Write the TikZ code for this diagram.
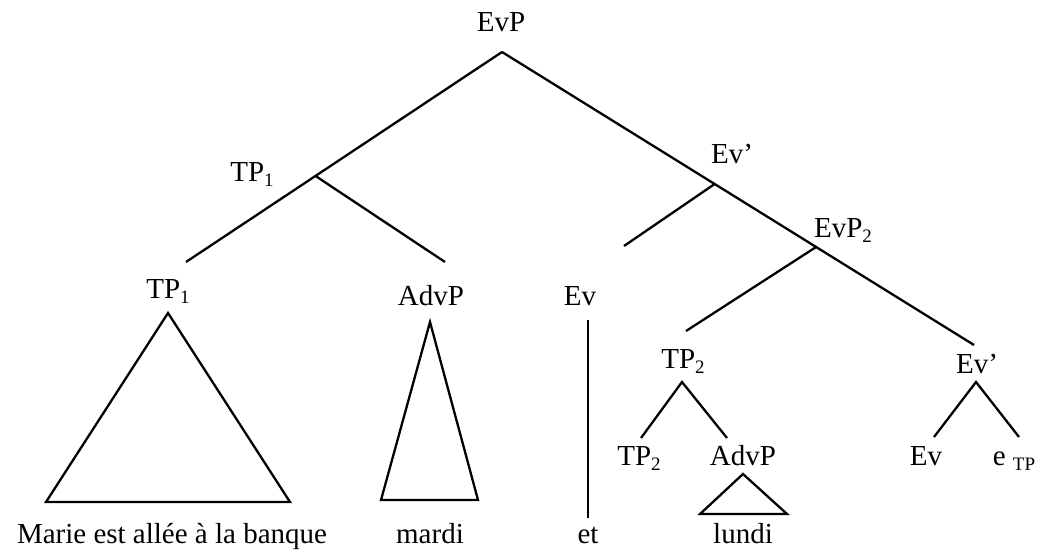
\documentclass[tikz,border=0pt]{standalone}
\usepackage{fontspec}
\setmainfont{Liberation Serif}
\usetikzlibrary{calc}
\newcommand{\subsc}[1]{\raisebox{-0.2em}{\fontsize{19}{19}\selectfont #1}}
\begin{document}
\begin{tikzpicture}[x=1pt,y=-1pt,
  lbl/.style={anchor=base,inner sep=0pt,font=\fontsize{29}{29}\selectfont},
  br/.style={line width=2.3pt,line join=miter}]
\useasboundingbox (0,0) rectangle (1040,551);
% labels
\node[lbl] (evp) at (501,32) {EvP};
\node[lbl] (tp1a) at (252,181) {TP\subsc{1}};
\node[lbl] (evb1) at (732,163) {Ev’};
\node[lbl] (evp2) at (843,237) {EvP\subsc{2}};
\node[lbl] (tp1b) at (168,298) {TP\subsc{1}};
\node[lbl] (advp1) at (431,305) {AdvP};
\node[lbl] (ev1) at (580,305) {Ev};
\node[lbl] (tp2a) at (683,368) {TP\subsc{2}};
\node[lbl] (evb2) at (977,373) {Ev’};
\node[lbl] (tp2b) at (639,465) {TP\subsc{2}};
\node[lbl] (advp2) at (743,465) {AdvP};
\node[lbl] (ev2) at (926,465) {Ev};
\node[lbl] (etp) at (1014,465) {e \subsc{TP}};
\node[lbl] (marie) at (172,543) {Marie est allée à la banque};
\node[lbl] (mardi) at (430,543) {mardi};
\node[lbl] (et) at (588,543) {et};
\node[lbl] (lundi) at (743,543) {lundi};
% junction points
\coordinate (a0) at (502,52);
\coordinate (eR) at (974,345);
\coordinate (t1l) at (186,262);
\coordinate (j1) at ($(a0)!0.5902!(t1l)$);
\coordinate (t1r) at (445,262);
\coordinate (j2) at ($(a0)!0.4505!(eR)$);
\coordinate (j3) at ($(a0)!0.6655!(eR)$);
\coordinate (evl) at (624,246);
\coordinate (e2l) at (686,331);
\coordinate (k1) at (682,382);
\coordinate (k1l) at (641,438);
\coordinate (k1r) at (727,438);
\coordinate (k2) at (976,382);
\coordinate (k2l) at (934,437);
\coordinate (k2r) at (1019,437);
\coordinate (evt) at (588,320);
\coordinate (evb) at (588,518);
% branches
\draw[br] (a0) -- (t1l);
\draw[br] (a0) -- (eR);
\draw[br] (j1) -- (t1r);
\draw[br] (j2) -- (evl);
\draw[br] (j3) -- (e2l);
\draw[br] (k1l) -- (k1) -- (k1r);
\draw[br] (k2l) -- (k2) -- (k2r);
\draw[br] (evt) -- (evb);
% triangles
\draw[br] (168,313) -- (46,502) -- (290,502) -- cycle;
\draw[br] (430,322) -- (381,500) -- (478,500) -- cycle;
\draw[br] (743,474) -- (700,514) -- (787,514) -- cycle;
\end{tikzpicture}
\end{document}
